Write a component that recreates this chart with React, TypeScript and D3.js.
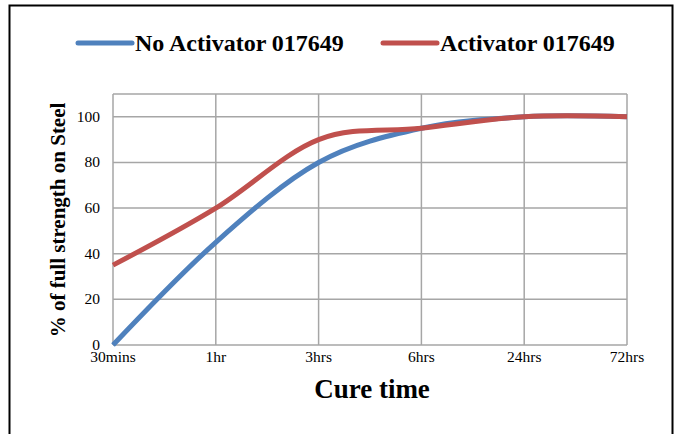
import * as d3 from "d3";
import { useEffect, useRef } from "react";

const categories = ["30mins", "1hr", "3hrs", "6hrs", "24hrs", "72hrs"];
const noActivator = [0, 45, 80, 95, 100, 100];
const activator = [35, 60, 90, 95, 100, 100];
const yTicks = [0, 20, 40, 60, 80, 100];
const seriesNames = ["No Activator 017649", "Activator 017649"];
const seriesColors = ["#4F81BD", "#C0504D"];

const W = 678;
const H = 434;
const FONT = "'Liberation Serif', 'Times New Roman', serif";

export default function App() {
    const svgRef = useRef<SVGSVGElement>(null);

    useEffect(() => {
        if (svgRef.current) drawChart();
    }, []);

    const drawChart = () => {
        const svg = d3.select(svgRef.current);
        svg.selectAll("*").remove();

        // outer frame
        svg.append("rect")
            .attr("x", 9.5)
            .attr("y", 5.5)
            .attr("width", 663)
            .attr("height", 440)
            .attr("fill", "white")
            .attr("stroke", "black")
            .attr("stroke-width", 2);

        const left = 113;
        const right = 627;
        const top = 94;
        const bottom = 345;

        const scaleX = d3.scalePoint<string>().domain(categories).range([left, right]);
        const scaleY = d3.scaleLinear().domain([0, 110]).range([bottom, top]);

        const grid = svg.append("g").attr("stroke", "#A6A6A6").attr("stroke-width", 1.5);
        // horizontal grid
        grid.selectAll("line.h")
            .data(yTicks.concat([110]))
            .enter()
            .append("line")
            .attr("x1", left)
            .attr("x2", right)
            .attr("y1", (d) => scaleY(d))
            .attr("y2", (d) => scaleY(d));
        // vertical grid
        grid.selectAll("line.v")
            .data(categories)
            .enter()
            .append("line")
            .attr("x1", (d) => scaleX(d)!)
            .attr("x2", (d) => scaleX(d)!)
            .attr("y1", top)
            .attr("y2", bottom);

        // y tick labels
        svg.append("g")
            .selectAll("text")
            .data(yTicks)
            .enter()
            .append("text")
            .attr("x", 100)
            .attr("y", (d) => scaleY(d) + 5)
            .attr("text-anchor", "end")
            .attr("font-family", FONT)
            .attr("font-size", 15.5)
            .text((d) => `${d}`);

        // x tick labels
        svg.append("g")
            .selectAll("text")
            .data(categories)
            .enter()
            .append("text")
            .attr("x", (d) => scaleX(d)!)
            .attr("y", 362)
            .attr("text-anchor", "middle")
            .attr("font-family", FONT)
            .attr("font-size", 15.5)
            .text((d) => d);

        // lines
        const line = d3
            .line<number>()
            .x((d, i) => scaleX(categories[i])!)
            .y((d) => scaleY(d))
            .curve(d3.curveCardinal.tension(0));

        [noActivator, activator].forEach((data, i) => {
            svg.append("path")
                .datum(data)
                .attr("fill", "none")
                .attr("stroke", seriesColors[i])
                .attr("stroke-width", 5)
                .attr("stroke-linejoin", "round")
                .attr("d", line);
        });

        // axis titles
        svg.append("text")
            .attr("x", 372)
            .attr("y", 398)
            .attr("text-anchor", "middle")
            .attr("font-family", FONT)
            .attr("font-weight", "bold")
            .attr("font-size", 27)
            .text("Cure time");

        svg.append("text")
            .attr("transform", "translate(65,220) rotate(-90)")
            .attr("text-anchor", "middle")
            .attr("font-family", FONT)
            .attr("font-weight", "bold")
            .attr("font-size", 21)
            .text("% of full strength on Steel");

        // legend
        const legendX = [78, 383];
        seriesNames.forEach((name, i) => {
            const g = svg.append("g").attr("transform", `translate(${legendX[i]},43)`);
            g.append("line")
                .attr("x1", 0)
                .attr("x2", 54)
                .attr("y1", 0)
                .attr("y2", 0)
                .attr("stroke", seriesColors[i])
                .attr("stroke-width", 5)
                .attr("stroke-linecap", "round");
            g.append("text")
                .attr("x", 57)
                .attr("y", 8)
                .attr("font-family", FONT)
                .attr("font-weight", "bold")
                .attr("font-size", 24)
                .text(name);
        });
    };

    return (
        <svg
            ref={svgRef}
            width={W}
            height={H}
            style={{ position: "absolute", left: 0, top: 0, background: "white" }}
        />
    );
}
